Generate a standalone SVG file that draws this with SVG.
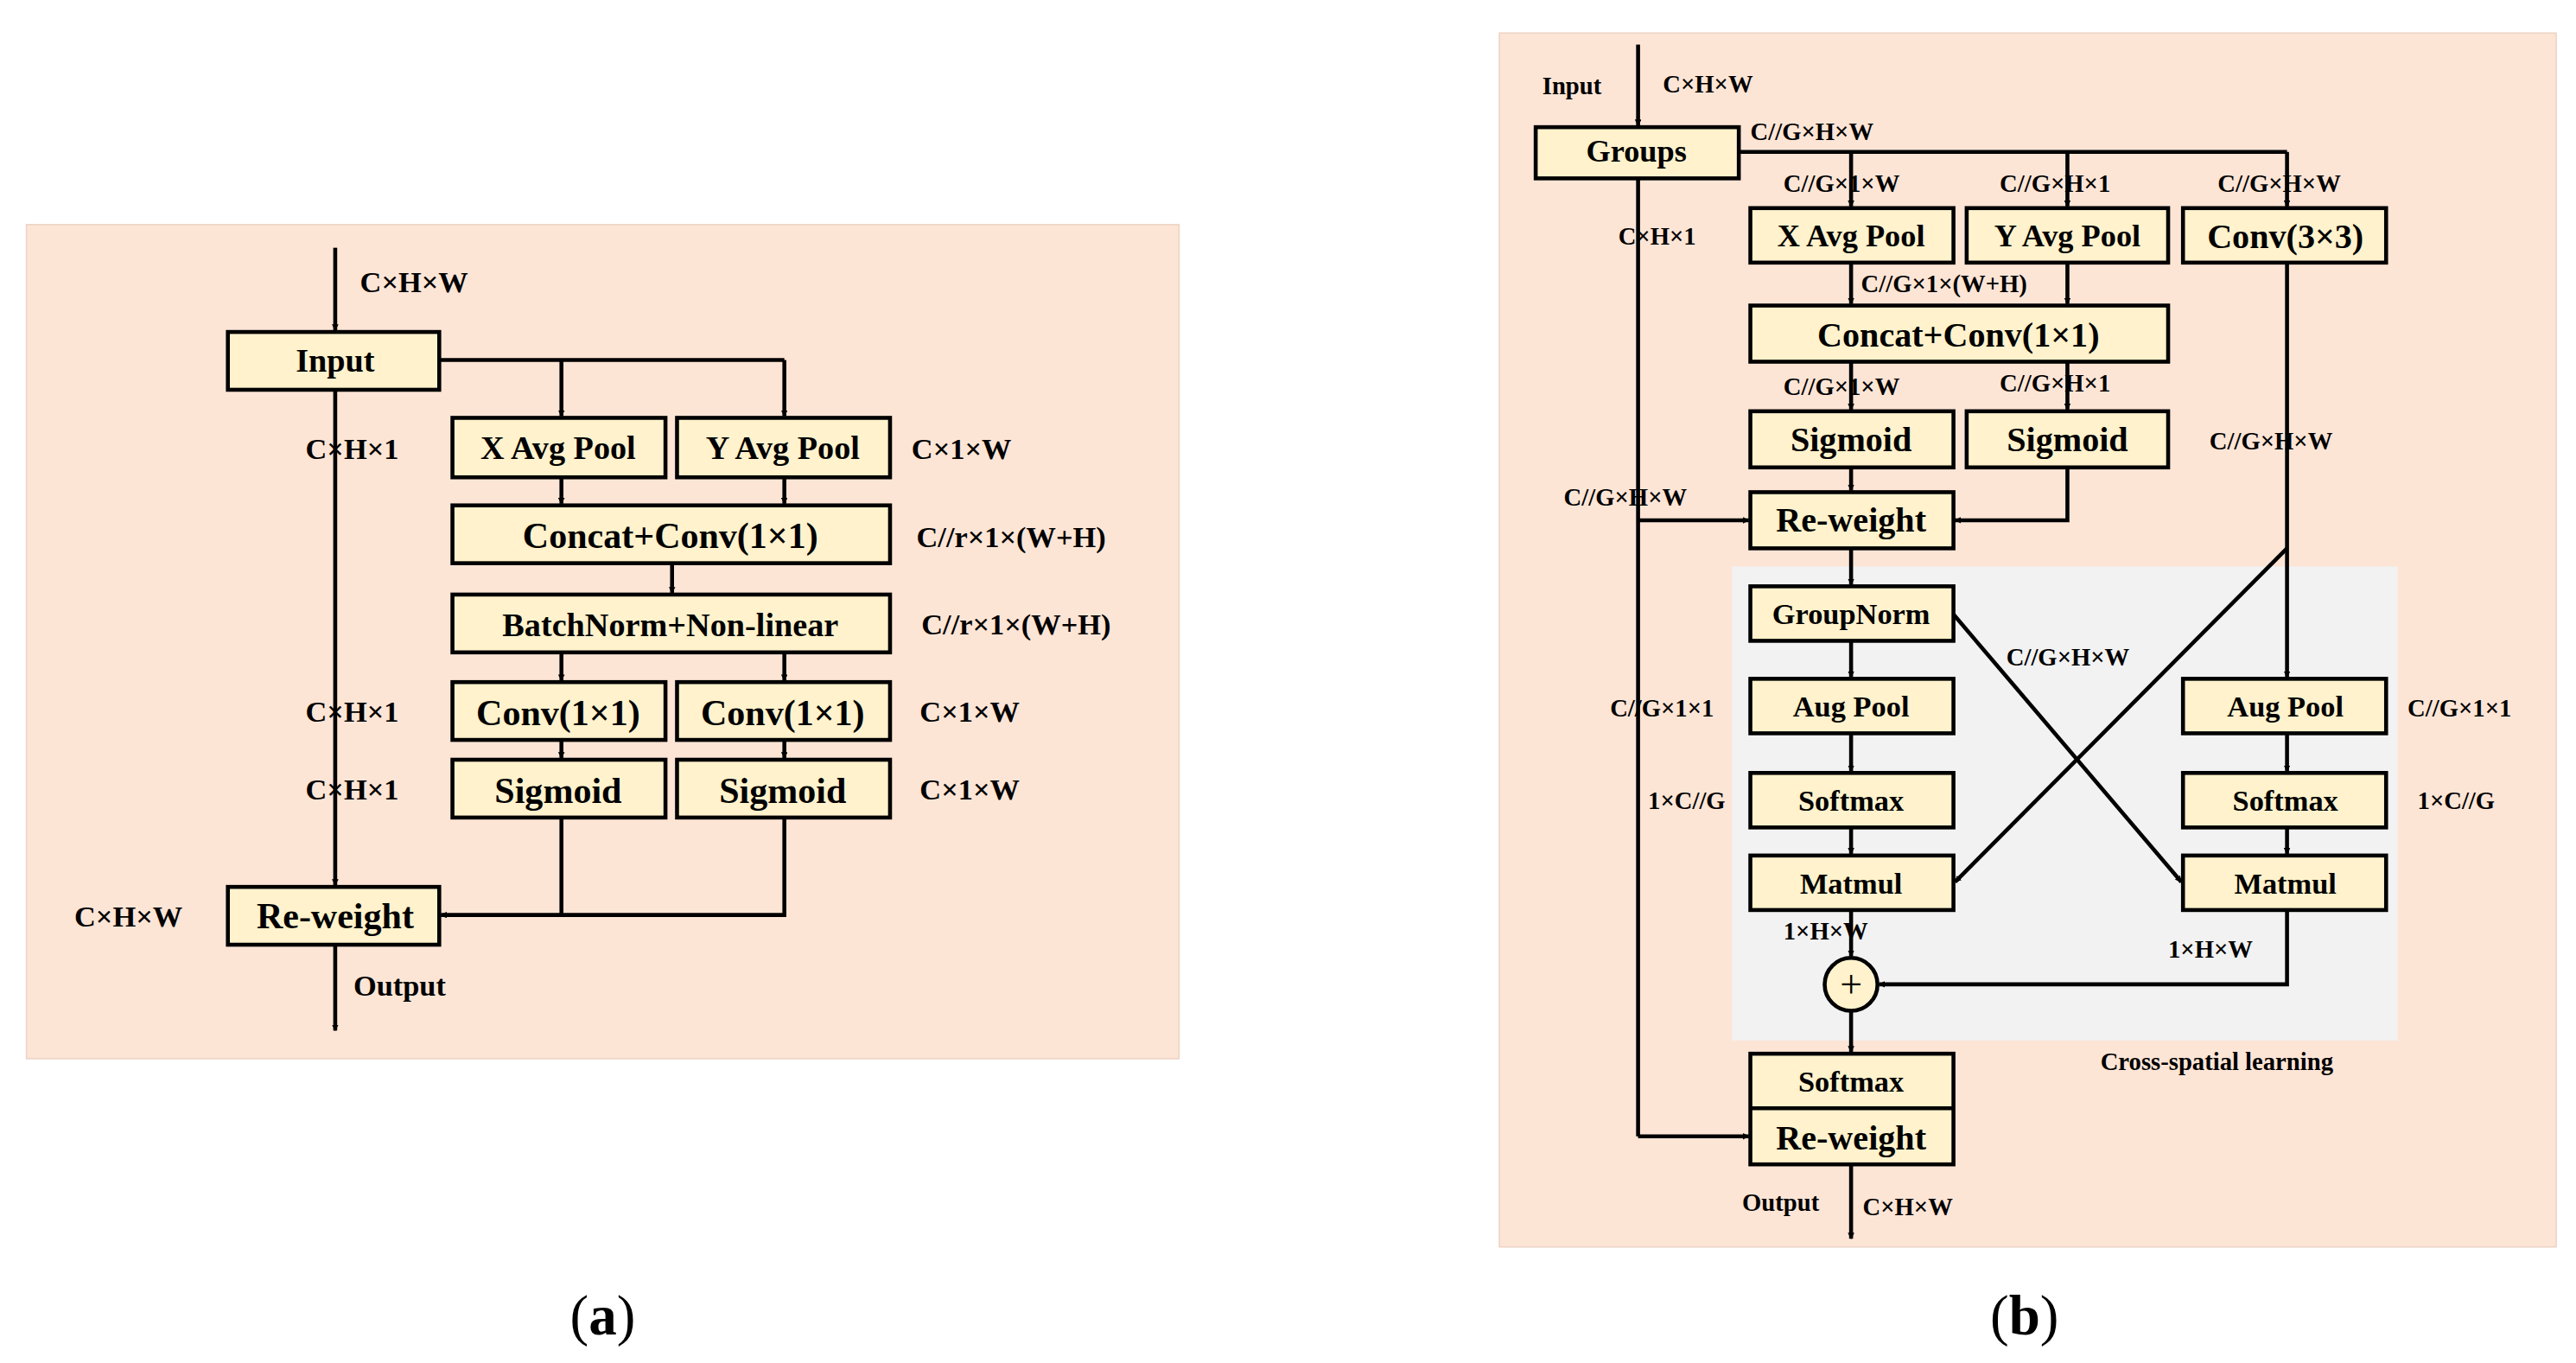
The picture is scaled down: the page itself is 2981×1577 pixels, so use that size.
<svg xmlns="http://www.w3.org/2000/svg" width="2981" height="1577" viewBox="0 0 2981 1577">
<defs>
<marker id="ah" viewBox="0 0 10 10" refX="9" refY="5" markerWidth="4" markerHeight="4" orient="auto" markerUnits="userSpaceOnUse"><path d="M0,0 L10,5 L0,10 z" fill="#000"/></marker>
<style>
.bx{fill:#fff2cc;stroke:#000;stroke-width:2.4}
.ln{fill:none;stroke:#000;stroke-width:2.4}
.a{fill:none;stroke:#000;stroke-width:2.4;marker-end:url(#ah)}
text{font-family:"Liberation Serif","Times New Roman",serif;font-weight:bold;fill:#000}
.t{font-size:21px;text-anchor:middle}
.l{font-size:18px}
.tb{font-size:19px;text-anchor:middle}
.lb{font-size:15px}
</style>
</defs>
<rect width="2981" height="1577" fill="#fff"/>
<g transform="scale(1.9109)">
<g id="panel-a">
<rect x="16" y="136" width="698" height="505" fill="#fde5d6" stroke="#ecd3c3" stroke-width="0.8"/>
<g id="connectors-a">
<line class="a" x1="203" y1="150" x2="203" y2="200"/>
<polyline class="ln" points="266,218 475,218"/>
<line class="a" x1="340" y1="218" x2="340" y2="252"/>
<line class="a" x1="475" y1="218" x2="475" y2="252"/>
<line class="a" x1="340" y1="289" x2="340" y2="305"/>
<line class="a" x1="475" y1="289" x2="475" y2="305"/>
<line class="a" x1="407" y1="341" x2="407" y2="359"/>
<line class="a" x1="340" y1="395" x2="340" y2="412"/>
<line class="a" x1="475" y1="395" x2="475" y2="412"/>
<line class="a" x1="340" y1="448" x2="340" y2="459"/>
<line class="a" x1="475" y1="448" x2="475" y2="459"/>
<polyline class="ln" points="340,495 340,554"/>
<polyline class="a" points="475,495 475,554 267,554"/>
<line class="a" x1="203" y1="236" x2="203" y2="536"/>
<line class="a" x1="203" y1="572" x2="203" y2="624"/>
</g>
<g id="a-input"><rect class="bx" x="138" y="201" width="128" height="35"/><text class="t" x="203" y="225" style="font-size:20px">Input</text></g>
<g id="a-xpool"><rect class="bx" x="274" y="253" width="129" height="36"/><text class="t" x="338" y="278" style="font-size:20px">X Avg Pool</text></g>
<g id="a-ypool"><rect class="bx" x="410" y="253" width="129" height="36"/><text class="t" x="474" y="278" style="font-size:20px">Y Avg Pool</text></g>
<g id="a-concat"><rect class="bx" x="274" y="306" width="265" height="35"/><text class="t" x="406" y="332" style="font-size:22px">Concat+Conv(1×1)</text></g>
<g id="a-bn"><rect class="bx" x="274" y="360" width="265" height="35"/><text class="t" x="406" y="385" style="font-size:20px">BatchNorm+Non-linear</text></g>
<g id="a-conv1"><rect class="bx" x="274" y="413" width="129" height="35"/><text class="t" x="338" y="439" style="font-size:22px">Conv(1×1)</text></g>
<g id="a-conv2"><rect class="bx" x="410" y="413" width="129" height="35"/><text class="t" x="474" y="439" style="font-size:22px">Conv(1×1)</text></g>
<g id="a-sig1"><rect class="bx" x="274" y="460" width="129" height="35"/><text class="t" x="338" y="486" style="font-size:22px">Sigmoid</text></g>
<g id="a-sig2"><rect class="bx" x="410" y="460" width="129" height="35"/><text class="t" x="474" y="486" style="font-size:22px">Sigmoid</text></g>
<g id="a-rew"><rect class="bx" x="138" y="537" width="128" height="35"/><text class="t" x="203" y="562" style="font-size:22px">Re-weight</text></g>
<g id="a-labels">
<text class="l" x="218" y="177">C×H×W</text>
<text class="l" x="185" y="278">C×H×1</text>
<text class="l" x="552" y="278">C×1×W</text>
<text class="l" x="555" y="331">C//r×1×(W+H)</text>
<text class="l" x="558" y="384">C//r×1×(W+H)</text>
<text class="l" x="185" y="437">C×H×1</text>
<text class="l" x="557" y="437">C×1×W</text>
<text class="l" x="185" y="484">C×H×1</text>
<text class="l" x="557" y="484">C×1×W</text>
<text class="l" x="45" y="561">C×H×W</text>
<text class="l" x="214" y="603">Output</text>
</g>
</g>
<g id="panel-b">
<rect x="908" y="20" width="640" height="735" fill="#fde5d6" stroke="#ecd3c3" stroke-width="0.8"/>
<rect x="1049" y="343" width="403" height="287" fill="#f2f2f2"/>
<g id="connectors-b">
<line class="a" x1="992" y1="27" x2="992" y2="76"/>
<polyline class="ln" points="1053,92 1385,92"/>
<line class="a" x1="1121" y1="92" x2="1121" y2="125"/>
<line class="a" x1="1252" y1="92" x2="1252" y2="125"/>
<line class="a" x1="1385" y1="92" x2="1385" y2="125"/>
<line class="a" x1="1121" y1="159" x2="1121" y2="184"/>
<line class="a" x1="1252" y1="159" x2="1252" y2="184"/>
<line class="a" x1="1121" y1="219" x2="1121" y2="248"/>
<line class="a" x1="1252" y1="219" x2="1252" y2="248"/>
<line class="a" x1="1121" y1="283" x2="1121" y2="297"/>
<polyline class="a" points="1252,283 1252,315 1184,315"/>
<line class="a" x1="992" y1="315" x2="1059" y2="315"/>
<polyline class="ln" points="992,108 992,688"/>
<polyline class="a" points="992,688 1059,688"/>
<line class="a" x1="1121" y1="332" x2="1121" y2="354"/>
<line class="a" x1="1385" y1="159" x2="1385" y2="410"/>
<line class="a" x1="1385" y1="332" x2="1184" y2="534"/>
<line class="a" x1="1183" y1="372" x2="1321" y2="534"/>
<line class="a" x1="1121" y1="388" x2="1121" y2="410"/>
<line class="a" x1="1121" y1="444" x2="1121" y2="467"/>
<line class="a" x1="1121" y1="501" x2="1121" y2="517"/>
<line class="a" x1="1385" y1="444" x2="1385" y2="467"/>
<line class="a" x1="1385" y1="501" x2="1385" y2="517"/>
<line class="a" x1="1121" y1="551" x2="1121" y2="579"/>
<polyline class="a" points="1385,551 1385,596 1138,596"/>
<line class="a" x1="1121" y1="612" x2="1121" y2="637"/>
<line class="a" x1="1121" y1="705" x2="1121" y2="750"/>
</g>
<g id="b-groups"><rect class="bx" x="930" y="77" width="123" height="31"/><text class="tb" x="991" y="98">Groups</text></g>
<g id="b-xpool"><rect class="bx" x="1060" y="126" width="123" height="33"/><text class="tb" x="1121" y="149">X Avg Pool</text></g>
<g id="b-ypool"><rect class="bx" x="1191" y="126" width="122" height="33"/><text class="tb" x="1252" y="149">Y Avg Pool</text></g>
<g id="b-conv3"><rect class="bx" x="1322" y="126" width="123" height="33"/><text class="tb" x="1384" y="150" style="font-size:21px">Conv(3×3)</text></g>
<g id="b-concat"><rect class="bx" x="1060" y="185" width="253" height="34"/><text class="tb" x="1186" y="210" style="font-size:21px">Concat+Conv(1×1)</text></g>
<g id="b-sig1"><rect class="bx" x="1060" y="249" width="123" height="34"/><text class="tb" x="1121" y="273" style="font-size:21px">Sigmoid</text></g>
<g id="b-sig2"><rect class="bx" x="1191" y="249" width="122" height="34"/><text class="tb" x="1252" y="273" style="font-size:21px">Sigmoid</text></g>
<g id="b-rew1"><rect class="bx" x="1060" y="298" width="123" height="34"/><text class="tb" x="1121" y="322" style="font-size:21px">Re-weight</text></g>
<g id="b-gn"><rect class="bx" x="1060" y="355" width="123" height="33"/><text class="tb" x="1121" y="378" style="font-size:18px">GroupNorm</text></g>
<g id="b-aug1"><rect class="bx" x="1060" y="411" width="123" height="33"/><text class="tb" x="1121" y="434" style="font-size:18px">Aug Pool</text></g>
<g id="b-aug2"><rect class="bx" x="1322" y="411" width="123" height="33"/><text class="tb" x="1384" y="434" style="font-size:18px">Aug Pool</text></g>
<g id="b-sm1"><rect class="bx" x="1060" y="468" width="123" height="33"/><text class="tb" x="1121" y="491" style="font-size:18px">Softmax</text></g>
<g id="b-sm2"><rect class="bx" x="1322" y="468" width="123" height="33"/><text class="tb" x="1384" y="491" style="font-size:18px">Softmax</text></g>
<g id="b-mm1"><rect class="bx" x="1060" y="518" width="123" height="33"/><text class="tb" x="1121" y="541" style="font-size:18px">Matmul</text></g>
<g id="b-mm2"><rect class="bx" x="1322" y="518" width="123" height="33"/><text class="tb" x="1384" y="541" style="font-size:18px">Matmul</text></g>
<g id="b-plus"><circle cx="1121" cy="596" r="16" fill="#fff2cc" stroke="#000" stroke-width="2.4"/><text class="tb" x="1121" y="604" style="font-size:24px;font-weight:normal">+</text></g>
<g id="b-final"><rect class="bx" x="1060" y="638" width="123" height="67"/><line class="ln" x1="1060" y1="671" x2="1183" y2="671"/><text class="tb" x="1121" y="661" style="font-size:18px">Softmax</text><text class="tb" x="1121" y="696" style="font-size:21px">Re-weight</text></g>
<g id="b-labels">
<text class="lb" x="934" y="57">Input</text>
<text class="lb" x="1007" y="56">C×H×W</text>
<text class="lb" x="1060" y="85">C//G×H×W</text>
<text class="lb" x="1080" y="116">C//G×1×W</text>
<text class="lb" x="1211" y="116">C//G×H×1</text>
<text class="lb" x="1343" y="116">C//G×H×W</text>
<text class="lb" x="980" y="148">C×H×1</text>
<text class="lb" x="1127" y="177">C//G×1×(W+H)</text>
<text class="lb" x="1080" y="239">C//G×1×W</text>
<text class="lb" x="1211" y="237">C//G×H×1</text>
<text class="lb" x="1338" y="272">C//G×H×W</text>
<text class="lb" x="947" y="306">C//G×H×W</text>
<text class="lb" x="1215" y="403">C//G×H×W</text>
<text class="lb" x="975" y="434">C//G×1×1</text>
<text class="lb" x="1458" y="434">C//G×1×1</text>
<text class="lb" x="998" y="490">1×C//G</text>
<text class="lb" x="1464" y="490">1×C//G</text>
<text class="lb" x="1080" y="569">1×H×W</text>
<text class="lb" x="1313" y="580">1×H×W</text>
<text class="lb" x="1272" y="648">Cross-spatial learning</text>
<text class="lb" x="1055" y="733">Output</text>
<text class="lb" x="1128" y="736">C×H×W</text>
</g>
</g>
<text x="365" y="808" style="font-size:34px;font-weight:normal;text-anchor:middle">(<tspan font-weight="bold">a</tspan>)</text>
<text x="1226" y="808" style="font-size:34px;font-weight:normal;text-anchor:middle">(<tspan font-weight="bold">b</tspan>)</text>
</g>
</svg>
